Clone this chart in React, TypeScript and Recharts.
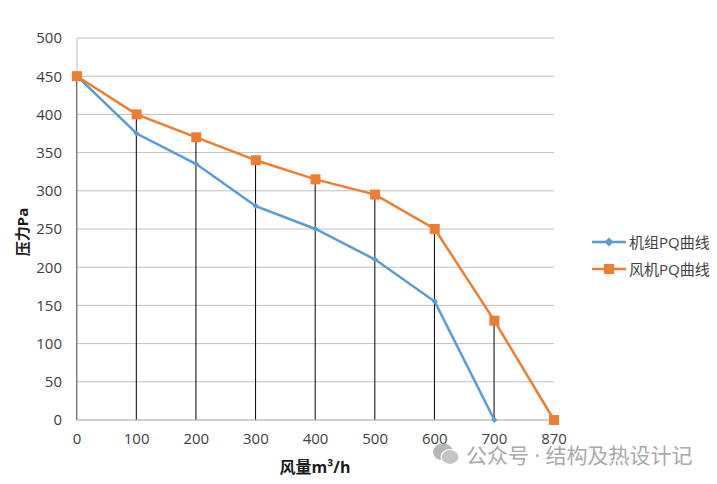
import { Bar, CartesianGrid, ComposedChart, Line, XAxis, YAxis } from 'recharts';

// 风量 categories (m³/h) and pressure values (Pa)
const flowLabels = ['0', '100', '200', '300', '400', '500', '600', '700', '870'];
const unitPressure = [450, 375, 335, 280, 250, 210, 155, 0, null];
const fanPressure = [450, 400, 370, 340, 315, 295, 250, 130, 0];
const pressureTicks = [0, 50, 100, 150, 200, 250, 300, 350, 400, 450, 500];
const seriesNames = ['机组PQ曲线', '风机PQ曲线'];

const BLUE = '#5b9bd5';
const ORANGE = '#ed7d31';
const TEXT = '#404040';
const GRID = '#c0c0c0';
const FONT = '"Open Sans", "Noto Sans CJK SC", sans-serif';

const chartData = flowLabels.map((q, i) => ({
  q,
  unit: unitPressure[i],
  fan: fanPressure[i],
}));

const Diamond = ({ cx, cy, fill, r = 5 }: any) => {
  if (cx == null || cy == null) return null;
  return <path d={`M${cx},${cy - r}L${cx + r},${cy}L${cx},${cy + r}L${cx - r},${cy}Z`} fill={fill} />;
};

const Square = ({ cx, cy, fill, s = 10 }: any) => {
  if (cx == null || cy == null) return null;
  return <rect x={cx - s / 2} y={cy - s / 2} width={s} height={s} fill={fill} />;
};

function LegendBox() {
  const rows = [
    { name: seriesNames[0], color: BLUE, marker: 'diamond' },
    { name: seriesNames[1], color: ORANGE, marker: 'square' },
  ];
  return (
    <div style={{ position: 'absolute', left: 592, top: 228 }}>
      {rows.map((r) => (
        <div key={r.name} style={{ display: 'flex', alignItems: 'center', height: 27 }}>
          <svg width={36} height={14}>
            <line x1={0} y1={7} x2={34} y2={7} stroke={r.color} strokeWidth={2.5} />
            {r.marker === 'diamond' ? (
              <Diamond cx={17} cy={7} fill={r.color} r={4.5} />
            ) : (
              <Square cx={17} cy={7} fill={r.color} s={10} />
            )}
          </svg>
          <span style={{ fontSize: 15, color: TEXT, fontFamily: FONT, marginLeft: 1 }}>{r.name}</span>
        </div>
      ))}
    </div>
  );
}

export default function App() {
  return (
    <div style={{ position: 'absolute', left: 0, top: 0, width: 717, height: 484, background: '#fff', fontFamily: FONT }}>
      <ComposedChart
        width={717}
        height={484}
        data={chartData}
        margin={{ top: 38, right: 163, bottom: 34, left: 0 }}
      >
        <CartesianGrid vertical={false} stroke={GRID} strokeWidth={1} />
        <XAxis
          dataKey="q"
          scale="point"
          padding={{ left: 0, right: 0 }}
          height={30}
          tickLine={false}
          tickSize={0}
          tickMargin={13}
          axisLine={{ stroke: GRID }}
          tick={{ fill: TEXT, fontSize: 15, fontFamily: FONT }}
          interval={0}
        />
        <YAxis
          width={77}
          domain={[0, 500]}
          ticks={pressureTicks}
          tickLine={false}
          tickSize={0}
          tickMargin={15}
          axisLine={{ stroke: GRID }}
          tick={{ fill: TEXT, fontSize: 15, fontFamily: FONT }}
          interval={0}
        />
        <Line
          dataKey="unit"
          name={seriesNames[0]}
          stroke={BLUE}
          strokeWidth={2.5}
          dot={(p: any) => <Diamond key={`u${p.index}`} {...p} fill={BLUE} />}
          activeDot={false}
          isAnimationActive={false}
          connectNulls={false}
        />
        <Bar dataKey="fan" barSize={1} fill="#000" isAnimationActive={false} legendType="none" />
        <Line
          dataKey="fan"
          name={seriesNames[1]}
          stroke={ORANGE}
          strokeWidth={2.5}
          dot={(p: any) => <Square key={`f${p.index}`} {...p} fill={ORANGE} />}
          activeDot={false}
          isAnimationActive={false}
        />
      </ComposedChart>

      <LegendBox />

      <div
        style={{
          position: 'absolute',
          left: 21,
          top: 232,
          transform: 'translate(-50%, -50%) rotate(-90deg)',
          fontSize: 15,
          fontWeight: 700,
          color: '#1a1a1a',
          whiteSpace: 'nowrap',
        }}
      >
        压力Pa
      </div>
      <div
        style={{
          position: 'absolute',
          left: 315,
          top: 466,
          transform: 'translate(-50%, -50%)',
          fontSize: 16,
          fontWeight: 700,
          color: '#1a1a1a',
          whiteSpace: 'nowrap',
        }}
      >
        风量m³/h
      </div>

      <div
        style={{
          position: 'absolute',
          left: 432,
          top: 439,
          display: 'flex',
          alignItems: 'center',
          color: '#a9a9a9',
          fontSize: 21,
          whiteSpace: 'nowrap',
        }}
      >
        <svg width={28} height={24} style={{ marginRight: 6 }}>
          <ellipse cx={11} cy={10} rx={10} ry={8.5} fill="#b5b5b5" />
          <ellipse cx={18} cy={15} rx={9} ry={7.5} fill="#c4c4c4" stroke="#fff" strokeWidth={1.2} />
        </svg>
        <span>公众号 · 结构及热设计记</span>
      </div>
    </div>
  );
}
